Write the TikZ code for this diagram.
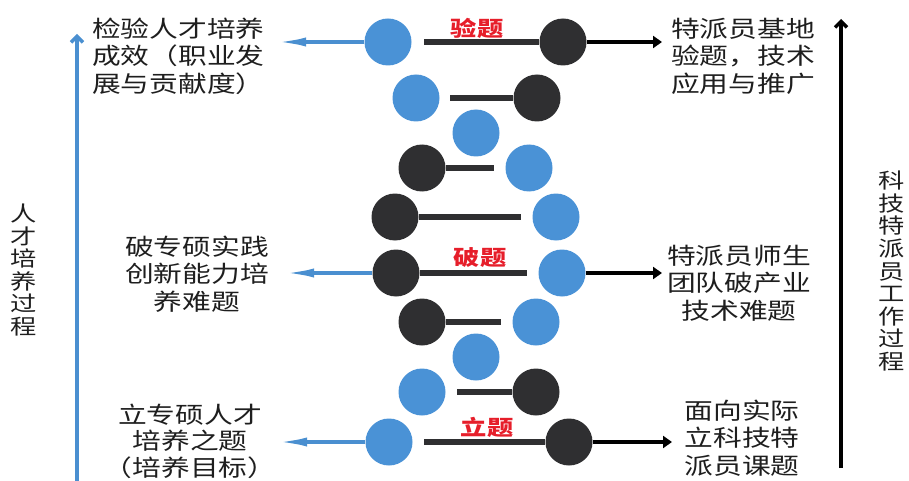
\documentclass[tikz,border=0pt]{standalone}
\usepackage{fontspec}
\newfontfamily\cjk[FakeStretch=1.25]{Noto Sans CJK SC}
\usetikzlibrary{arrows.meta}
\definecolor{cblue}{HTML}{4A92D6}
\definecolor{cdark}{HTML}{2F2F31}
\definecolor{cred}{HTML}{E61E2A}
\definecolor{ink}{HTML}{1E1E1E}
\definecolor{ablue}{HTML}{4A8FD0}
\tikzset{
  txt/.style={font=\cjk\fontsize{23}{27.5}\selectfont, text=ink, inner sep=0pt},
  vtxt/.style={font=\cjk\fontsize{21}{22.6}\selectfont, text=ink, inner sep=0pt, align=center},
  lbl/.style={font=\cjk\bfseries\fontsize{21}{22}\selectfont, text=cred, inner sep=0pt},
  bc/.style={circle, fill=cblue, minimum size=47pt, inner sep=0pt},
  kc/.style={circle, fill=cdark, minimum size=47pt, inner sep=0pt},
  bar/.style={line width=6pt, draw=cdark},
  barrow/.style={line width=3.5pt, draw=ablue, -{Latex[length=30pt,width=9pt]}},
  karrow/.style={line width=4.5pt, draw=black, -{Triangle[length=9pt,width=12pt]}},
  vbarrow/.style={line width=3.5pt, draw=ablue, -{Straight Barb[length=6pt,width=12pt]}},
  vkarrow/.style={line width=3.5pt, draw=black, -{Straight Barb[length=6pt,width=12pt]}}
}
\begin{document}
\begin{tikzpicture}[x=1pt,y=-1pt]
\useasboundingbox (0,0) rectangle (909,481);
% circles
\node[bc] (b1) at (388,42) {};  \node[kc] (k1) at (563,42) {};
\node[bc] (b2) at (416,98) {};  \node[kc] (k2) at (537,98) {};
\node[bc] (b3) at (476,133) {};
\node[kc] (k4) at (422,168) {}; \node[bc] (b4) at (529,168) {};
\node[kc] (k5) at (395,217) {}; \node[bc] (b5) at (556,217) {};
\node[kc] (k6) at (396,273) {}; \node[bc] (b6) at (562,273) {};
\node[kc] (k7) at (422,322) {}; \node[bc] (b7) at (536,322) {};
\node[bc] (b8) at (476,357) {};
\node[bc] (b9) at (422,392) {}; \node[kc] (k9) at (536,392) {};
\node[bc] (b10) at (389,442) {}; \node[kc] (k10) at (569,442) {};
% bar ends
\coordinate (e1) at (424,42);
\coordinate (e2) at (450,98);
\coordinate (e4) at (494,168);
\coordinate (e5) at (521,217);
\coordinate (e6) at (527,273);
\coordinate (e7) at (501,322);
\coordinate (e9) at (457,392);
\coordinate (e10) at (424,442);
\draw[bar] (k1.west) -- (e1);
\draw[bar] (k2.west) -- (e2);
\draw[bar] (k4.east) -- (e4);
\draw[bar] (k5.east) -- (e5);
\draw[bar] (k6.east) -- (e6);
\draw[bar] (k7.east) -- (e7);
\draw[bar] (k9.west) -- (e9);
\draw[bar] (k10.west) -- (e10);
% labels
\node[lbl] (l1) at (477,28) {验题};
\node[lbl] (l2) at (480,258) {破题};
\node[lbl] (l3) at (487,427) {立题};
% arrow ends
\coordinate (al1) at (276,42);
\coordinate (al2) at (284,273);
\coordinate (al3) at (277,442);
\coordinate (ar1) at (662,42);
\coordinate (ar2) at (662,273);
\coordinate (ar3) at (672,442);
\draw[barrow] (b1.west) -- (al1);
\draw[barrow] (k6.west) -- (al2);
\draw[barrow] (b10.west) -- (al3);
\draw[karrow] (k1.east) -- (ar1);
\draw[karrow] (b6.east) -- (ar2);
\draw[karrow] (k10.east) -- (ar3);
% vertical arrows
\coordinate (vl0) at (77,481);
\coordinate (vl1) at (77,34);
\coordinate (vr0) at (841,468);
\coordinate (vr1) at (841,19);
\draw[vbarrow] (vl0) -- (vl1);
\draw[vkarrow] (vr0) -- (vr1);
% texts
\node[txt, anchor=west, align=left] (t1) at (92,56) {检验人才培养\\成效（职业发\\展与贡献度）};
\node[txt, align=center] (t2) at (197,274) {破专硕实践\\创新能力培\\养难题};
\node[txt, align=center, font=\cjk\fontsize{23}{26.5}\selectfont] (t3) at (190,441) {立专硕人才\\培养之题\\（培养目标）};
\node[txt, anchor=west, align=left] (t4) at (671,56) {特派员基地\\验题，技术\\应用与推广};
\node[txt, align=center] (t5) at (739,283) {特派员师生\\团队破产业\\技术难题};
\node[txt, align=center] (t6) at (742,438) {面向实际\\立科技特\\派员课题};
\node[vtxt] (v1) at (24,270) {人\\才\\培\\养\\过\\程};
\node[vtxt] (v2) at (892,271) {科\\技\\特\\派\\员\\工\\作\\过\\程};
\end{tikzpicture}
\end{document}
